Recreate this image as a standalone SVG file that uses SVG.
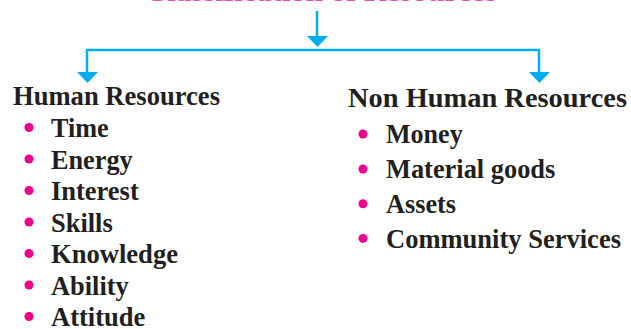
<svg xmlns="http://www.w3.org/2000/svg" width="631" height="329" viewBox="0 0 631 329">
<defs>
<style>
.t{font-family:"Liberation Serif","Times New Roman",serif;font-weight:bold;fill:#231f20}
.h{font-size:27px}
.i{font-size:26.5px}
.title{font-family:"Liberation Serif","Times New Roman",serif;font-weight:bold;font-size:27px;fill:#ec4fa8}
.b{fill:#ec008c}
.c{stroke:#00aeef;stroke-width:2.5;fill:none}
.ah{fill:#00aeef}
</style>
</defs>
<rect width="631" height="329" fill="#ffffff"/>
<text class="title" x="145" y="1" textLength="352" lengthAdjust="spacingAndGlyphs">Classification of Resources</text>
<g id="connectors">
<line class="c" x1="317" y1="11" x2="317" y2="38"/>
<polygon class="ah" points="307,36 328,36 317.5,47"/>
<polyline class="c" points="87,73 87,50 539,50 539,73"/>
<polygon class="ah" points="77,72 98,72 87.5,83"/>
<polygon class="ah" points="529,72 550,72 539.5,83"/>
</g>
<g id="human">
<text class="t h" x="13" y="105" textLength="207" lengthAdjust="spacingAndGlyphs">Human Resources</text>
<circle class="b" cx="29" cy="127.5" r="4.5"/><text class="t i" x="51" y="137" textLength="57.7" lengthAdjust="spacingAndGlyphs">Time</text>
<circle class="b" cx="29" cy="159" r="4.5"/><text class="t i" x="51" y="168.5" textLength="81.7" lengthAdjust="spacingAndGlyphs">Energy</text>
<circle class="b" cx="29" cy="190.5" r="4.5"/><text class="t i" x="51" y="200" textLength="87.7" lengthAdjust="spacingAndGlyphs">Interest</text>
<circle class="b" cx="29" cy="222" r="4.5"/><text class="t i" x="51" y="231.5" textLength="61.7" lengthAdjust="spacingAndGlyphs">Skills</text>
<circle class="b" cx="29" cy="253.5" r="4.5"/><text class="t i" x="51" y="263" textLength="127" lengthAdjust="spacingAndGlyphs">Knowledge</text>
<circle class="b" cx="29" cy="285" r="4.5"/><text class="t i" x="51" y="294.5" textLength="77.7" lengthAdjust="spacingAndGlyphs">Ability</text>
<circle class="b" cx="29" cy="316.5" r="4.5"/><text class="t i" x="51" y="326" textLength="94.3" lengthAdjust="spacingAndGlyphs">Attitude</text>
</g>
<g id="nonhuman">
<text class="t h" x="348" y="106.5" textLength="279" lengthAdjust="spacingAndGlyphs">Non Human Resources</text>
<circle class="b" cx="363" cy="134" r="4.5"/><text class="t i" x="386" y="143.3" textLength="76.7" lengthAdjust="spacingAndGlyphs">Money</text>
<circle class="b" cx="363" cy="169" r="4.5"/><text class="t i" x="386" y="178.3" textLength="169.3" lengthAdjust="spacingAndGlyphs">Material goods</text>
<circle class="b" cx="363" cy="203.7" r="4.5"/><text class="t i" x="386" y="213" textLength="70" lengthAdjust="spacingAndGlyphs">Assets</text>
<circle class="b" cx="363" cy="238.4" r="4.5"/><text class="t i" x="386" y="247.7" textLength="235" lengthAdjust="spacingAndGlyphs">Community Services</text>
</g>
</svg>
